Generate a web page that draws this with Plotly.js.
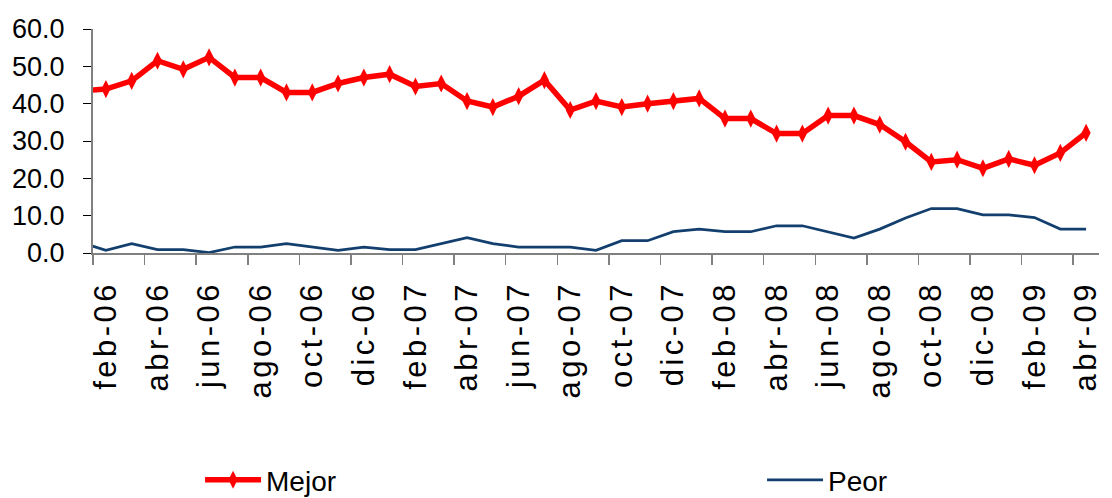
<!DOCTYPE html>
<html>
<head>
<meta charset="utf-8">
<script src="https://cdn.plot.ly/plotly-3.0.1.min.js"></script>
<style>
  html, body { margin: 0; padding: 0; background: #fff; }
  #chart { width: 1112px; height: 498px; }
  .xtick text { letter-spacing: 3.5px; }
</style>
</head>
<body>
<div id="chart"></div>
<script>
// Monthly series (the first month sits just outside the visible axis range, as in the original)
const months = ["ene-06","feb-06","mar-06","abr-06","may-06","jun-06","jul-06","ago-06","sep-06","oct-06","nov-06","dic-06",
                "ene-07","feb-07","mar-07","abr-07","may-07","jun-07","jul-07","ago-07","sep-07","oct-07","nov-07","dic-07",
                "ene-08","feb-08","mar-08","abr-08","may-08","jun-08","jul-08","ago-08","sep-08","oct-08","nov-08","dic-08",
                "ene-09","feb-09","mar-09","abr-09"];
const mejor = [43.4,43.9,46.1,51.5,49.2,52.4,47.0,47.0,43.0,43.0,45.4,47.0,
               47.9,44.6,45.4,40.7,39.1,42.0,46.3,38.3,40.7,39.1,40.0,40.7,
               41.4,36.0,36.0,32.0,32.0,36.8,36.8,34.4,29.8,24.4,25.0,22.7,
               25.2,23.5,26.8,32.2];
const peor  = [2.9,0.7,2.5,0.9,0.9,0.1,1.6,1.6,2.5,1.6,0.7,1.6,
               0.9,0.9,2.5,4.1,2.5,1.6,1.6,1.6,0.7,3.3,3.3,5.7,
               6.4,5.7,5.7,7.3,7.3,5.7,4.0,6.4,9.4,11.9,11.9,10.2,
               10.2,9.5,6.4,6.4];
const yTicks = [0,10,20,30,40,50,60];

const idx = months.map((m, i) => i);
const labelIdx = idx.filter(i => i % 2 === 1);           // feb-06, abr-06, ... abr-09
const labelText = labelIdx.map(i => months[i]);
const boundaryVals = labelIdx.map(i => i - 0.5);          // tick marks between months

const FONT = '"Liberation Sans Narrow", "Arial Narrow", "Liberation Sans", Arial, sans-serif';

const traces = [
  {
    x: idx, y: mejor, name: 'Mejor', type: 'scatter', mode: 'lines+markers',
    line: {color: '#ff0000', width: 5.5},
    marker: {symbol: 'diamond-tall', size: 13, color: '#ff0000'},
    legend: 'legend'
  },
  {
    x: idx, y: peor, name: 'Peor', type: 'scatter', mode: 'lines',
    line: {color: '#133f6e', width: 2.75},
    legend: 'legend2'
  }
];

const layout = {
  width: 1112, height: 498,
  margin: {l: 93, r: 13, t: 29, b: 245},
  paper_bgcolor: '#ffffff', plot_bgcolor: '#ffffff',
  font: {family: FONT, color: '#000000'},
  showlegend: true,
  xaxis: {
    type: 'linear',
    range: [0.5, 39.5],
    tickmode: 'array', tickvals: labelIdx, ticktext: labelText,
    tickangle: -90, ticks: '', ticklen: 0,
    tickfont: {family: FONT, size: 31, color: '#000000'},
    ticklabelstandoff: 14,
    minor: {tickmode: 'array', tickvals: boundaryVals, ticks: 'outside', ticklen: 10, tickwidth: 1.5, tickcolor: '#808080', showgrid: false},
    showline: true, linecolor: '#808080', linewidth: 1.5,
    showgrid: false, zeroline: false, fixedrange: true, automargin: false
  },
  yaxis: {
    range: [0, 60],
    tickmode: 'array', tickvals: yTicks, tickformat: '.1f',
    ticks: 'outside', ticklen: 8, tickwidth: 1, tickcolor: '#000000',
    tickfont: {family: FONT, size: 27, color: '#000000'},
    ticklabelstandoff: 13,
    showline: true, linecolor: '#808080', linewidth: 2,
    showgrid: false, zeroline: false, fixedrange: true, automargin: false
  },
  legend: {
    xref: 'container', yref: 'container',
    x: 0.1799, xanchor: 'left', y: 0.036, yanchor: 'middle',
    orientation: 'h', bgcolor: 'rgba(0,0,0,0)', itemwidth: 56,
    font: {family: FONT, size: 28, color: '#000000'}
  },
  legend2: {
    xref: 'container', yref: 'container',
    x: 0.6853, xanchor: 'left', y: 0.036, yanchor: 'middle',
    orientation: 'h', bgcolor: 'rgba(0,0,0,0)', itemwidth: 56,
    font: {family: FONT, size: 28, color: '#000000'}
  }
};

Plotly.newPlot('chart', traces, layout, {displayModeBar: false, staticPlot: true});
</script>
</body>
</html>
